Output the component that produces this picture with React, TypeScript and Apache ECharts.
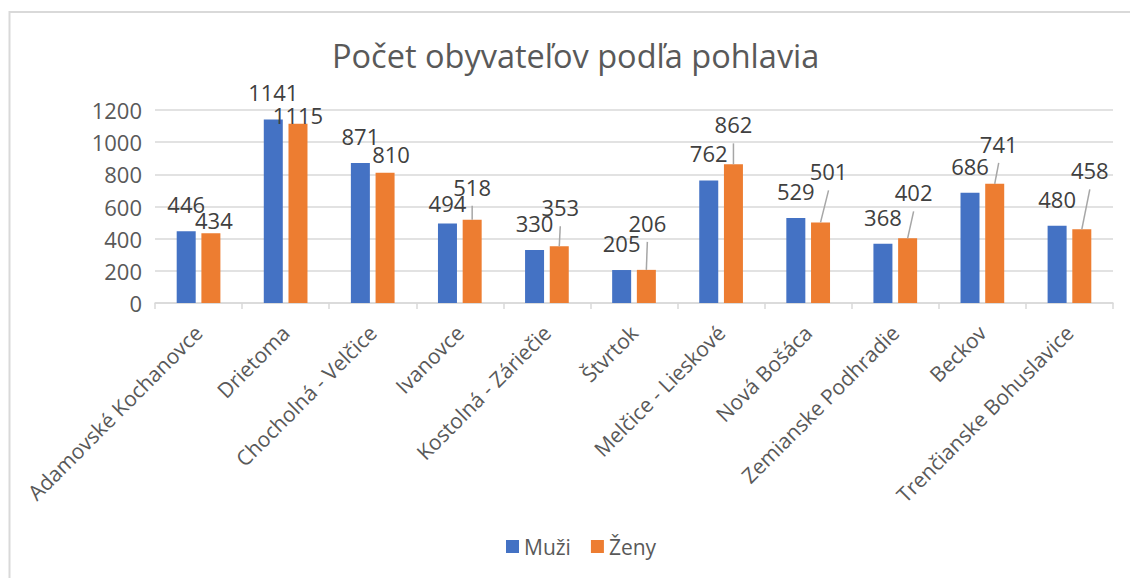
import React, { useEffect, useRef } from "react";
import * as echarts from "echarts";

const title = "Počet obyvateľov podľa pohlavia";
const categories = [
  "Adamovské Kochanovce",
  "Drietoma",
  "Chocholná - Velčice",
  "Ivanovce",
  "Kostolná - Záriečie",
  "Štvrtok",
  "Melčice - Lieskové",
  "Nová Bošáca",
  "Zemianske Podhradie",
  "Beckov",
  "Trenčianske Bohuslavice",
];
const muzi = [446, 1141, 871, 494, 330, 205, 762, 529, 368, 686, 480];
const zeny = [434, 1115, 810, 518, 353, 206, 862, 501, 402, 741, 458];
const yTicks = { min: 0, max: 1200, interval: 200 };

// label nudges (gap above bar in px, horizontal shift) reproducing the reference layout
const muziLabelGap = [18, 18, 18, 12, 18, 18, 18, 18, 18, 18, 18];
const zenyLabelGap = [4, 0, 10, 24, 30, 38, 31, 42, 37, 31, 50];
const zenyLabelDx = [3, 0, 6, 0, 1, 1, 0, 8, 6, 4, 8];
const zenyLeader = [false, false, false, true, true, true, true, true, true, true, true];

const FONT = "'Open Sans', 'DejaVu Sans', sans-serif";
const BLUE = "#4472C4";
const ORANGE = "#ED7D31";
const BAR_W = 19;
const BAR_GAP = 0.3;

export default function App() {
  const ref = useRef<HTMLDivElement>(null);
  useEffect(() => {
    if (!ref.current) return;
    const chart = echarts.init(ref.current, undefined, { renderer: "svg" });
    const labelBase = {
      show: true,
      position: "top" as const,
      fontFamily: FONT,
      fontSize: 22,
      color: "#404040",
    };
    const orangeOffset = (BAR_W + BAR_W * BAR_GAP) / 2;
    chart.setOption({
      animation: false,
      backgroundColor: "#ffffff",
      textStyle: { fontFamily: FONT },
      title: {
        text: title,
        left: 327,
        top: 34,
        textStyle: { fontFamily: FONT, fontSize: 32.5, fontWeight: "normal", color: "#595959" },
      },
      graphic: [
        {
          type: "rect",
          shape: { x: 9.5, y: 12, width: 1130, height: 600 },
          style: { fill: "none", stroke: "#d9d9d9", lineWidth: 2 },
          silent: true,
          z: -1,
        },
      ],
      legend: {
        data: ["Muži", "Ženy"],
        left: 501,
        top: 531,
        itemWidth: 13,
        itemHeight: 13,
        itemGap: 20,
        icon: "rect",
        textStyle: { fontFamily: FONT, fontSize: 21, color: "#595959" },
      },
      grid: { left: 155, right: 17, top: 110, bottom: 275, containLabel: false },
      xAxis: {
        type: "category",
        data: categories,
        axisLine: { lineStyle: { color: "#d9d9d9", width: 1.5 } },
        axisTick: { show: true, length: 6, lineStyle: { color: "#d9d9d9", width: 1.5 } },
        axisLabel: {
          interval: 0,
          rotate: 45,
          margin: 26,
          fontFamily: FONT,
          fontSize: 21,
          color: "#595959",
        },
      },
      yAxis: {
        type: "value",
        min: yTicks.min,
        max: yTicks.max,
        interval: yTicks.interval,
        axisLine: { show: false },
        axisTick: { show: false },
        axisLabel: {
          margin: 13,
          fontFamily: FONT,
          fontSize: 22,
          color: "#595959",
          formatter: (v: number) => String(v),
        },
        splitLine: { lineStyle: { color: "#d9d9d9", width: 1.5 } },
      },
      series: [
        {
          name: "Muži",
          type: "bar",
          barWidth: BAR_W,
          barGap: BAR_GAP * 100 + "%",
          itemStyle: { color: BLUE },
          label: labelBase,
          data: muzi.map((v, i) => ({
            value: v,
            label: { distance: muziLabelGap[i] - 2 },
          })),
        },
        {
          name: "Ženy",
          type: "bar",
          barWidth: BAR_W,
          barGap: BAR_GAP * 100 + "%",
          itemStyle: { color: ORANGE },
          label: labelBase,
          data: zeny.map((v, i) => ({
            value: v,
            label: { distance: zenyLabelGap[i] - 2, offset: [zenyLabelDx[i], 0] },
          })),
        },
        {
          name: "leaders",
          type: "custom",
          silent: true,
          z: 3,
          encode: { x: 0, y: 1 },
          data: zeny.map((v, i) => [i, v]).filter((_, i) => zenyLeader[i]),
          renderItem: (params: any, api: any) => {
            const i = api.value(0);
            const v = api.value(1);
            const p = api.coord([i, v]);
            const x2 = p[0] + orangeOffset;
            const y2 = p[1];
            const x1 = x2 + zenyLabelDx[i];
            const y1 = y2 - zenyLabelGap[i] + 10;
            return {
              type: "line",
              shape: { x1, y1, x2, y2 },
              style: { stroke: "#a6a6a6", lineWidth: 1.5 },
            };
          },
        },
      ],
    });
    return () => chart.dispose();
  }, []);
  return (
    <div
      ref={ref}
      style={{ position: "absolute", left: 0, top: 0, width: 1130, height: 578 }}
    />
  );
}
